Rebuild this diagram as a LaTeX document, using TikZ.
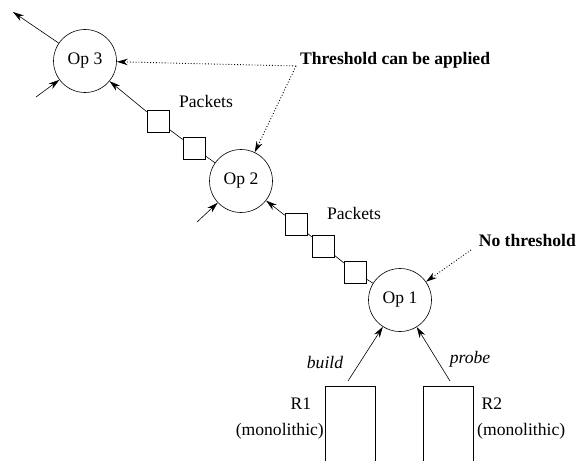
\documentclass[tikz,border=0pt]{standalone}
\usepackage{fontspec}
\setmainfont{Liberation Serif}
\usetikzlibrary{arrows.meta}
\begin{document}
\begin{tikzpicture}[x=1pt,y=-1pt,
  every node/.style={font=\fontsize{17.6}{20}\selectfont},
  opc/.style={draw,circle,minimum size=63pt,inner sep=0pt,line width=0.6pt},
  pkt/.style={draw,rectangle,minimum size=22pt,inner sep=0pt,line width=0.6pt},
  lbl/.style={inner sep=0pt},
  bold/.style={inner sep=0pt,font=\fontsize{17.6}{20}\selectfont\bfseries},
  conn/.style={line width=0.6pt},
  arr/.style={line width=0.6pt,-{Stealth[length=11pt,width=6.5pt]}},
  dots/.style={dotted,line width=0.9pt,-{Stealth[length=11pt,width=6.5pt]}},
  rel/.style={draw,line width=0.6pt}]
\useasboundingbox (0,0) rectangle (577,460);
% operators
\node[opc] (op3) at (85,61) {Op 3};
\node[opc] (op2) at (241,181) {Op 2};
\node[opc] (op1) at (400,300) {Op 1};
% packets
\node[pkt] (s1) at (158,121) {};
\node[pkt] (s2) at (194,148) {};
\node[pkt] (s3) at (296,224) {};
\node[pkt] (s4) at (323,246) {};
\node[pkt] (s5) at (355,272) {};
% labels
\node[lbl] (pk1) at (206,101) {Packets};
\node[lbl] (pk2) at (354,213) {Packets};
\node[bold,anchor=west] (thr) at (300,60) {Threshold can be applied};
\node[bold,anchor=east] (nothr) at (576,240) {No threshold};
\node[lbl,font=\fontsize{17.6}{20}\selectfont\itshape] (bl) at (325,362) {build};
\node[lbl,font=\fontsize{17.6}{20}\selectfont\itshape] (pr) at (470,359) {probe};
\node[lbl] (r1) at (301,404) {R1};
\node[lbl,anchor=east] (m1) at (324,431) {(monolithic)};
\node[lbl] (r2) at (492,404) {R2};
\node[lbl,anchor=west] (m2) at (477,431) {(monolithic)};
% relations
\coordinate (r1a) at (325,386);
\coordinate (r1b) at (375,386);
\draw[rel] (325,461) -- (r1a) -- (r1b) -- (375,461);
\coordinate (r2a) at (423,386);
\coordinate (r2b) at (473,386);
\draw[rel] (423,461) -- (r2a) -- (r2b) -- (473,461);
\coordinate (bst) at (348,381);
\coordinate (pst) at (450,381);
\draw[arr] (bst) -- (op1);
\draw[arr] (pst) -- (op1);
% packet chains
\draw[conn] (op1) -- (s5);
\draw[conn] (s5) -- (s4);
\draw[conn] (s4) -- (s3);
\draw[arr] (s3) -- (op2);
\draw[conn] (op2) -- (s2);
\draw[conn] (s2) -- (s1);
\draw[arr] (s1) -- (op3);
% other arrows
\coordinate (out3) at (13,12);
\coordinate (in3) at (36,97);
\coordinate (in2) at (197,222);
\draw[arr] (op3) -- (out3);
\draw[arr] (in3) -- (op3);
\draw[arr] (in2) -- (op2);
% dotted annotations
\coordinate (tp) at (296,66);
\draw[dots] (tp) -- (op3);
\draw[dots] (tp) -- (op2);
\coordinate (np) at (471,250);
\draw[dots] (np) -- (op1);
\end{tikzpicture}
\end{document}
